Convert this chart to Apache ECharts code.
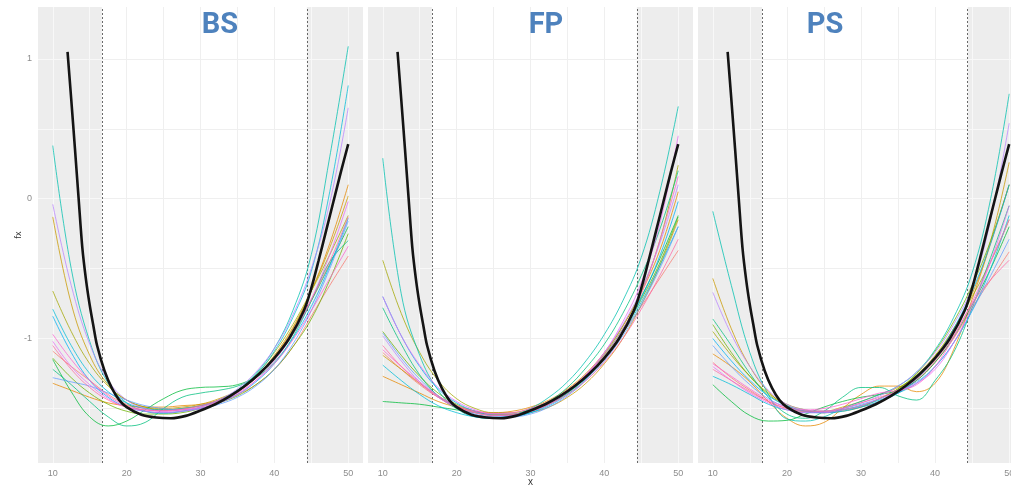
<!DOCTYPE html>
<html><head><meta charset="utf-8">
<script src="https://cdn.jsdelivr.net/npm/echarts@6/dist/echarts.min.js"></script>
<style>html,body{margin:0;padding:0;background:#fff}#c{width:1011px;height:486px}</style>
</head><body><div id="c"></div>
<script>
const panelTitles = ['BS', 'FP', 'PS'];
const xTickLabels = [10, 20, 30, 40, 50];
const xGridValues = [10, 15, 20, 25, 30, 35, 40, 45, 50];
const yTickLabels = [-1, 0, 1];
const yGridValues = [-1.5, -1, -0.5, 0, 0.5, 1];
const boundaries = [16.64, 44.4];
const xRange = [8, 52];
const yRange = [-1.89, 1.371];

const fitX = [10, 12.5, 15, 17.5, 20, 22.5, 25, 27.5, 30, 32.5, 35, 37.5, 40, 42.5, 45, 47.5, 50];
const truthX = [12, 12.5, 13, 13.5, 14, 14.5, 15, 15.5, 16, 17, 18, 19, 20, 22, 24, 26, 28, 30, 32, 34, 36, 38, 40, 42, 44, 45, 46, 47, 48, 49, 50];
const truthY = [1.05, 0.71, 0.36, 0.0, -0.35, -0.58, -0.76, -0.91, -1.05, -1.23, -1.355, -1.44, -1.49, -1.545, -1.565, -1.57, -1.553, -1.515, -1.47, -1.412, -1.34, -1.25, -1.14, -1.0, -0.8, -0.64, -0.44, -0.23, -0.02, 0.19, 0.39];

const bsFits = [
  [-1.09,-1.2,-1.3,-1.4,-1.47,-1.5,-1.51,-1.5,-1.48,-1.45,-1.4,-1.33,-1.22,-1.06,-0.84,-0.62,-0.41],
  [-1.32,-1.37,-1.42,-1.46,-1.48,-1.49,-1.49,-1.48,-1.47,-1.44,-1.38,-1.28,-1.13,-0.93,-0.66,-0.32,0.1],
  [-0.13,-0.75,-1.12,-1.33,-1.44,-1.49,-1.5,-1.49,-1.47,-1.43,-1.37,-1.27,-1.12,-0.92,-0.66,-0.35,0.02],
  [-0.66,-0.95,-1.18,-1.34,-1.44,-1.49,-1.51,-1.5,-1.48,-1.44,-1.37,-1.26,-1.1,-0.9,-0.66,-0.4,-0.12],
  [-1.14,-1.28,-1.39,-1.47,-1.52,-1.54,-1.54,-1.53,-1.5,-1.46,-1.41,-1.33,-1.22,-1.06,-0.86,-0.58,-0.25],
  [-1.15,-1.38,-1.56,-1.625,-1.59,-1.51,-1.43,-1.37,-1.35,-1.345,-1.33,-1.27,-1.14,-0.97,-0.73,-0.47,-0.2],
  [-1.22,-1.33,-1.45,-1.56,-1.625,-1.6,-1.5,-1.42,-1.39,-1.37,-1.34,-1.28,-1.17,-0.99,-0.73,-0.45,-0.3],
  [0.38,-0.5,-1.02,-1.32,-1.46,-1.52,-1.535,-1.52,-1.49,-1.44,-1.37,-1.25,-1.07,-0.8,-0.4,0.3,1.09],
  [-0.79,-1.05,-1.25,-1.38,-1.46,-1.5,-1.51,-1.5,-1.48,-1.44,-1.37,-1.26,-1.09,-0.85,-0.52,0.05,0.81],
  [-0.84,-1.1,-1.3,-1.42,-1.49,-1.52,-1.53,-1.52,-1.5,-1.46,-1.4,-1.31,-1.18,-1.0,-0.77,-0.48,-0.14],
  [-1.28,-1.31,-1.34,-1.39,-1.44,-1.48,-1.5,-1.51,-1.5,-1.47,-1.42,-1.34,-1.22,-1.04,-0.8,-0.5,-0.16],
  [-0.04,-0.62,-1.04,-1.3,-1.44,-1.5,-1.52,-1.51,-1.49,-1.44,-1.36,-1.24,-1.07,-0.83,-0.5,-0.03,0.65],
  [-1.02,-1.2,-1.33,-1.43,-1.49,-1.52,-1.53,-1.52,-1.5,-1.46,-1.4,-1.3,-1.16,-0.97,-0.72,-0.4,-0.02],
  [-0.97,-1.15,-1.3,-1.41,-1.48,-1.51,-1.52,-1.51,-1.49,-1.45,-1.39,-1.3,-1.18,-1.01,-0.8,-0.57,-0.34],
  [-1.05,-1.22,-1.35,-1.44,-1.49,-1.51,-1.515,-1.505,-1.48,-1.44,-1.38,-1.28,-1.14,-0.95,-0.72,-0.45,-0.13]
];

const fpFits = [
  [-1.1,-1.22,-1.33,-1.42,-1.48,-1.52,-1.54,-1.54,-1.51,-1.46,-1.38,-1.27,-1.13,-0.96,-0.77,-0.57,-0.37],
  [-1.27,-1.33,-1.39,-1.45,-1.49,-1.52,-1.53,-1.52,-1.49,-1.44,-1.36,-1.25,-1.1,-0.91,-0.67,-0.37,0.05],
  [-1.12,-1.22,-1.32,-1.41,-1.48,-1.53,-1.55,-1.55,-1.53,-1.49,-1.42,-1.32,-1.18,-1.0,-0.76,-0.48,-0.15],
  [-0.44,-0.82,-1.1,-1.3,-1.43,-1.5,-1.53,-1.53,-1.5,-1.45,-1.37,-1.26,-1.11,-0.91,-0.66,-0.3,0.24],
  [-0.95,-1.12,-1.27,-1.39,-1.47,-1.52,-1.545,-1.545,-1.52,-1.47,-1.39,-1.28,-1.13,-0.95,-0.72,-0.46,-0.13],
  [-1.45,-1.46,-1.47,-1.49,-1.51,-1.53,-1.54,-1.54,-1.51,-1.46,-1.38,-1.27,-1.12,-0.93,-0.7,-0.43,-0.12],
  [-0.78,-1.04,-1.26,-1.41,-1.5,-1.55,-1.57,-1.56,-1.52,-1.45,-1.35,-1.21,-1.04,-0.82,-0.55,-0.22,0.2],
  [0.29,-0.68,-1.12,-1.37,-1.5,-1.56,-1.57,-1.55,-1.5,-1.42,-1.31,-1.16,-0.97,-0.73,-0.42,0.05,0.66],
  [-1.19,-1.3,-1.4,-1.48,-1.53,-1.56,-1.57,-1.56,-1.53,-1.47,-1.39,-1.28,-1.14,-0.96,-0.74,-0.48,-0.2],
  [-0.7,-0.98,-1.2,-1.36,-1.46,-1.52,-1.55,-1.555,-1.53,-1.48,-1.4,-1.29,-1.14,-0.95,-0.71,-0.41,-0.02],
  [-0.96,-1.14,-1.29,-1.41,-1.49,-1.54,-1.56,-1.56,-1.54,-1.49,-1.41,-1.3,-1.16,-0.98,-0.76,-0.5,-0.2],
  [-0.98,-1.16,-1.31,-1.42,-1.49,-1.53,-1.55,-1.55,-1.52,-1.46,-1.38,-1.26,-1.1,-0.9,-0.65,-0.32,0.1],
  [-0.7,-0.98,-1.19,-1.35,-1.45,-1.51,-1.54,-1.54,-1.52,-1.47,-1.38,-1.26,-1.1,-0.88,-0.6,-0.18,0.45],
  [-1.08,-1.2,-1.31,-1.41,-1.48,-1.52,-1.535,-1.53,-1.5,-1.45,-1.37,-1.26,-1.12,-0.93,-0.68,-0.3,0.16],
  [-1.05,-1.2,-1.32,-1.42,-1.49,-1.53,-1.55,-1.545,-1.52,-1.47,-1.4,-1.3,-1.17,-1.0,-0.79,-0.55,-0.29]
];

const psFits = [
  [-1.17,-1.28,-1.37,-1.45,-1.5,-1.52,-1.52,-1.51,-1.49,-1.45,-1.39,-1.3,-1.17,-1.0,-0.78,-0.58,-0.38],
  [-1.11,-1.2,-1.31,-1.45,-1.57,-1.625,-1.6,-1.5,-1.4,-1.34,-1.34,-1.38,-1.32,-1.08,-0.72,-0.32,0.1],
  [-0.57,-0.93,-1.2,-1.38,-1.48,-1.52,-1.52,-1.49,-1.45,-1.4,-1.35,-1.27,-1.13,-0.93,-0.68,-0.3,0.26],
  [-0.95,-1.12,-1.27,-1.39,-1.47,-1.51,-1.53,-1.52,-1.49,-1.43,-1.36,-1.26,-1.12,-0.93,-0.7,-0.45,-0.15],
  [-0.9,-1.1,-1.27,-1.4,-1.48,-1.52,-1.53,-1.51,-1.48,-1.43,-1.36,-1.25,-1.09,-0.88,-0.62,-0.3,0.1],
  [-1.33,-1.45,-1.55,-1.59,-1.585,-1.54,-1.49,-1.45,-1.42,-1.4,-1.37,-1.3,-1.17,-0.99,-0.76,-0.5,-0.2],
  [-0.86,-1.05,-1.25,-1.42,-1.54,-1.57,-1.52,-1.42,-1.35,-1.35,-1.41,-1.44,-1.3,-1.1,-0.78,-0.42,-0.05],
  [-0.09,-0.62,-1.1,-1.4,-1.575,-1.59,-1.56,-1.5,-1.45,-1.4,-1.34,-1.24,-1.08,-0.85,-0.53,0.0,0.75],
  [-1.27,-1.33,-1.4,-1.47,-1.51,-1.53,-1.53,-1.51,-1.48,-1.44,-1.39,-1.32,-1.2,-1.03,-0.8,-0.5,-0.12],
  [-1.0,-1.16,-1.3,-1.41,-1.48,-1.52,-1.53,-1.52,-1.49,-1.45,-1.39,-1.29,-1.14,-0.93,-0.66,-0.32,0.1],
  [-1.05,-1.2,-1.33,-1.43,-1.49,-1.52,-1.52,-1.5,-1.47,-1.43,-1.38,-1.31,-1.2,-1.03,-0.8,-0.55,-0.29],
  [-0.67,-0.97,-1.2,-1.37,-1.47,-1.51,-1.52,-1.5,-1.46,-1.41,-1.34,-1.24,-1.1,-0.9,-0.63,-0.15,0.54],
  [-1.2,-1.3,-1.39,-1.46,-1.51,-1.53,-1.53,-1.51,-1.48,-1.43,-1.38,-1.32,-1.22,-1.03,-0.77,-0.45,-0.05],
  [-1.18,-1.27,-1.36,-1.44,-1.49,-1.51,-1.5,-1.47,-1.43,-1.39,-1.37,-1.33,-1.2,-0.99,-0.74,-0.45,-0.15],
  [-1.22,-1.3,-1.38,-1.45,-1.5,-1.52,-1.52,-1.5,-1.46,-1.42,-1.37,-1.29,-1.16,-0.98,-0.75,-0.58,-0.44]
];

const hueColors = ['#F8766D','#E58700','#C99800','#A3A500','#6BB100','#00BA38','#00BF7D','#00C0AF','#00BCD8','#00B0F6','#619CFF','#B983FF','#E76BF3','#FD61D1','#FF67A4'];

const panelFits = [bsFits, fpFits, psFits];
const gridBoxes = [
  {left: 38, top: 7, width: 325, height: 456},
  {left: 368, top: 7, width: 325, height: 456},
  {left: 698, top: 7, width: 326, height: 456}
];
const titleCenters = [220, 546, 825];

const grid = [], xAxis = [], yAxis = [], series = [];
panelTitles.forEach((t, i) => {
  grid.push(Object.assign({show: true, backgroundColor: '#ededed', borderWidth: 0, containLabel: false, outerBoundsMode: 'none'}, gridBoxes[i]));
  xAxis.push({
    gridIndex: i, type: 'value', min: xRange[0], max: xRange[1], z: 0,
    axisLine: {show: false},
    axisTick: {show: false, customValues: xGridValues},
    axisLabel: {customValues: xTickLabels, color: '#8c8c8c', fontSize: 9, margin: 6, fontFamily: 'Liberation Sans'},
    splitLine: {show: true, lineStyle: {color: '#f8f8f8', width: 1}},
    name: i === 1 ? 'x' : '', nameLocation: 'middle', nameGap: 19, nameMoveOverlap: false,
    nameTextStyle: {fontSize: 10, color: '#333', fontFamily: 'Liberation Sans', verticalAlign: 'middle'}
  });
  yAxis.push({
    gridIndex: i, type: 'value', min: yRange[0], max: yRange[1], z: 0,
    axisLine: {show: false},
    axisTick: {show: false, customValues: yGridValues},
    axisLabel: {show: i === 0, customValues: yTickLabels, color: '#8c8c8c', fontSize: 9, margin: 6, fontFamily: 'Liberation Sans'},
    splitLine: {show: true, lineStyle: {color: '#f8f8f8', width: 1}},
    name: i === 0 ? 'fx' : '', nameLocation: 'middle', nameGap: 15, nameRotate: 90, nameMoveOverlap: false,
    nameTextStyle: {fontSize: 9, color: '#333', fontFamily: 'Liberation Sans'}
  });
  const innerLines = [];
  xGridValues.filter(v => v > boundaries[0] && v < boundaries[1]).forEach(v => {
    innerLines.push([{coord: [v, yRange[0]]}, {coord: [v, yRange[1]]}]);
  });
  yGridValues.forEach(v => {
    innerLines.push([{coord: [boundaries[0], v]}, {coord: [boundaries[1], v]}]);
  });
  series.push({
    type: 'line', xAxisIndex: i, yAxisIndex: i, data: [], silent: true, animation: false,
    markArea: {silent: true, z: 1, itemStyle: {color: '#ffffff'}, data: [[{xAxis: boundaries[0]}, {xAxis: boundaries[1]}]]},
    markLine: {silent: true, z: 2, symbol: 'none', animation: false, label: {show: false},
      lineStyle: {color: '#efefef', width: 1, type: 'solid'}, data: innerLines}
  });
  series.push({
    type: 'line', xAxisIndex: i, yAxisIndex: i, data: [], silent: true, animation: false,
    markLine: {silent: true, z: 2, symbol: 'none', animation: false, label: {show: false},
      lineStyle: {color: '#444', width: 0.8, type: [2, 2]},
      data: boundaries.map(b => [{coord: [b, yRange[0]]}, {coord: [b, yRange[1]]}])}
  });
  panelFits[i].forEach((arr, k) => {
    series.push({
      type: 'line', xAxisIndex: i, yAxisIndex: i, z: 3, silent: true, animation: false,
      showSymbol: false, smooth: 0.4,
      lineStyle: {color: hueColors[k], width: 0.9, opacity: 0.85},
      data: fitX.map((x, j) => [x, arr[j]])
    });
  });
  series.push({
    type: 'line', xAxisIndex: i, yAxisIndex: i, z: 4, silent: true, animation: false,
    showSymbol: false, smooth: 0.3,
    lineStyle: {color: '#141414', width: 2.6},
    data: truthX.map((x, j) => [x, truthY[j]])
  });
});

const chart = echarts.init(document.getElementById('c'), null, {renderer: 'canvas'});
chart.setOption({
  animation: false,
  backgroundColor: '#ffffff',
  grid, xAxis, yAxis, series,
  graphic: panelTitles.map((t, i) => ({
    type: 'text', x: titleCenters[i], y: 26, z: 100,
    style: {text: t, fill: '#4e82bd', font: 'bold 29px Roboto', textAlign: 'center', textVerticalAlign: 'middle'}
  }))
});
</script>
</body></html>
